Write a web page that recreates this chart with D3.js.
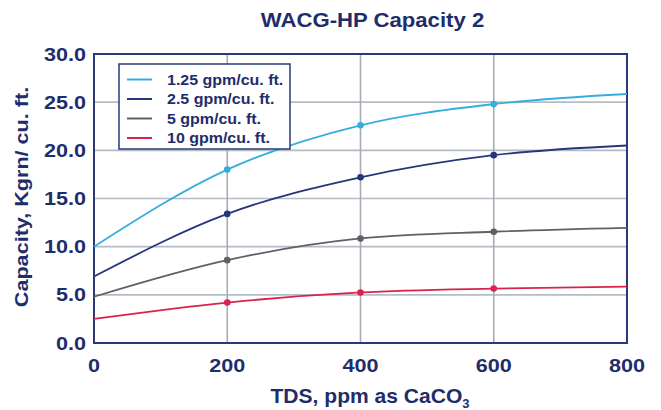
<!DOCTYPE html>
<html lang="en">
<head>
    <meta charset="UTF-8">
    <title>WACG-HP Capacity 2</title>
    <script src="https://d3js.org/d3.v7.min.js"></script>
    <style>
        body {
            margin: 0;
            background: white;
            font-family: "Liberation Sans", Arial, sans-serif;
        }
        text { fill: #1f2d6b; font-weight: bold; }
    </style>
</head>
<body>
    <div id="chart"></div>
    <script>
        // data
        const tds = [0, 200, 400, 600, 800];
        const flowRates = ["1.25 gpm/cu. ft.", "2.5 gpm/cu. ft.", "5 gpm/cu. ft.", "10 gpm/cu. ft."];
        const cap125 = [10.0, 18.0, 22.6, 24.8, 25.85];
        const cap25 = [6.9, 13.4, 17.2, 19.5, 20.5];
        const cap5 = [4.8, 8.6, 10.85, 11.55, 11.95];
        const cap10 = [2.5, 4.2, 5.25, 5.65, 5.85];
        const seriesColors = ["#35aedf", "#26367a", "#5e6066", "#d8234a"];
        const xTicks = [0, 200, 400, 600, 800];
        const yTicks = [0, 5, 10, 15, 20, 25, 30];

        const series = [cap125, cap25, cap5, cap10].map((vals, i) => ({
            name: flowRates[i],
            color: seriesColors[i],
            points: vals.map((v, j) => ({x: tds[j], y: v}))
        }));

        const width = 661, height = 410;
        const margin = {top: 54, right: 34, bottom: 67, left: 94};

        const svg = d3.select("#chart").append("svg")
            .attr("width", width)
            .attr("height", height);

        const x = d3.scaleLinear().domain([0, 800]).range([margin.left, width - margin.right]);
        const y = d3.scaleLinear().domain([0, 30]).range([height - margin.bottom, margin.top]);

        // the original lettering is a bit wider than Liberation Sans, so stretch it
        function label(parent, tx, ty, str, size, stretch, anchor, rot) {
            return parent.append("text")
                .attr("transform", `translate(${tx},${ty})${rot ? " rotate(" + rot + ")" : ""} scale(${stretch},1)`)
                .attr("text-anchor", anchor || "start")
                .style("font-size", size + "px")
                .text(str);
        }

        // grid
        svg.append("g").selectAll("line").data(yTicks.slice(1, -1)).enter().append("line")
            .attr("x1", x(0)).attr("x2", x(800))
            .attr("y1", d => y(d)).attr("y2", d => y(d))
            .attr("stroke", "#b4bcc6").attr("stroke-width", 1.6);
        svg.append("g").selectAll("line").data(xTicks.slice(1, -1)).enter().append("line")
            .attr("y1", y(0)).attr("y2", y(30))
            .attr("x1", d => x(d)).attr("x2", d => x(d))
            .attr("stroke", "#a8acb2").attr("stroke-width", 1.6);

        // frame
        svg.append("rect")
            .attr("x", x(0)).attr("y", y(30))
            .attr("width", x(800) - x(0)).attr("height", y(0) - y(30))
            .attr("fill", "none").attr("stroke", "#2a3a78").attr("stroke-width", 2);

        // tick labels
        yTicks.forEach(d => label(svg, x(0) - 8, y(d) + 6.5, d3.format(".1f")(d), 18, 1.2, "end"));
        xTicks.forEach(d => label(svg, x(d), 372, d, 18, 1.2, "middle"));

        // lines
        const line = d3.line()
            .x(d => x(d.x))
            .y(d => y(d.y))
            .curve(d3.curveMonotoneX);

        series.forEach(s => {
            svg.append("path")
                .attr("d", line(s.points))
                .attr("fill", "none")
                .attr("stroke", s.color)
                .attr("stroke-width", 1.8);
            svg.append("g").selectAll("circle")
                .data(s.points.filter(p => p.x > 0 && p.x < 800))
                .enter().append("circle")
                .attr("cx", d => x(d.x)).attr("cy", d => y(d.y))
                .attr("r", 3.3)
                .attr("fill", s.color);
        });

        // legend
        const legend = svg.append("g").attr("transform", "translate(119,64)");
        legend.append("rect")
            .attr("width", 171).attr("height", 85)
            .attr("fill", "white").attr("stroke", "#2a3a78").attr("stroke-width", 1.5);
        series.forEach((s, i) => {
            const ly = 15.5 + i * 19.5;
            legend.append("line")
                .attr("x1", 8).attr("x2", 33)
                .attr("y1", ly).attr("y2", ly)
                .attr("stroke", s.color).attr("stroke-width", 2);
            label(legend, 48, ly + 5, s.name, 14.8, 1.08);
        });

        // titles
        label(svg, 372.5, 26.7, "WACG-HP Capacity 2", 20.5, 1.08, "middle");

        const xt = label(svg, 370, 403, "", 19.5, 1.08, "middle");
        xt.append("tspan").text("TDS, ppm as CaCO");
        xt.append("tspan").attr("dy", 5).style("font-size", "12px").text("3");

        label(svg, 28, 197, "Capacity, Kgrn/ cu. ft.", 18, 1.2, "middle", -90);
    </script>
</body>
</html>
